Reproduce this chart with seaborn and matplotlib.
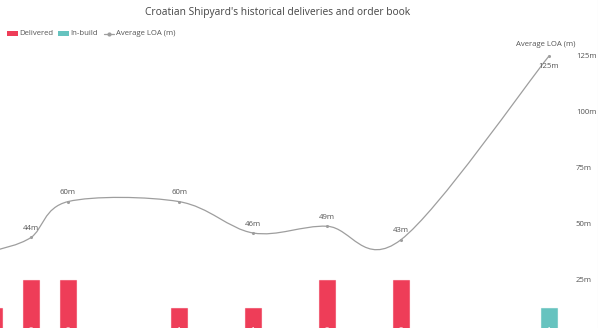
import numpy as np
import pandas as pd
import matplotlib
matplotlib.use("Agg")
import matplotlib.pyplot as plt
from matplotlib.patches import Rectangle
from matplotlib.lines import Line2D
from matplotlib.path import Path
from matplotlib.patches import PathPatch
import seaborn as sns

# ---------------- data ----------------
categories = ["2008", "2009", "2010", "2011", "2012", "2013", "2014", "2015",
              "2016", "2017", "2018", "2019", "2020", "2021", "2022", "2023"]
delivered = [1, 2, 2, 0, 0, 1, 0, 1, 0, 2, 0, 2, 0, 0, 0, 0]
in_build = [0, 0, 0, 0, 0, 0, 0, 0, 0, 0, 0, 0, 0, 0, 0, 1]
avg_loa = [38, 44, 60, np.nan, np.nan, 60, np.nan, 46, np.nan, 49, np.nan, 43,
           np.nan, np.nan, np.nan, 125]
loa_ticks = [25, 50, 75, 100, 125]

RED = "#EE3D58"
TEAL = "#66C3BF"
LINE = "#9E9E9E"
TXT = "#555555"
FS = 5.6

sns.set_theme(style="white")
plt.rcParams["font.family"] = ["Open Sans", "DejaVu Sans"]

W, H = 598, 328
fig = plt.figure(figsize=(W / 100, H / 100), dpi=100)

# axes geometry in pixels (image coords, y downward)
ax_left_px, ax_right_px = 0.0, 567.5
ax_top_px, ax_bottom_px = 45.0, 336.0
ax = fig.add_axes([ax_left_px / W, (H - ax_bottom_px) / H,
                   (ax_right_px - ax_left_px) / W, (ax_bottom_px - ax_top_px) / H])

# ---------------- bars ----------------
rows = []
for c, d, b in zip(categories, delivered, in_build):
    if d:
        rows.append({"cat": c, "count": d, "status": "Delivered"})
    if b:
        rows.append({"cat": c, "count": b, "status": "In-build"})
df = pd.DataFrame(rows)
sns.barplot(data=df, x="cat", y="count", hue="status", order=categories,
            palette={"Delivered": RED, "In-build": TEAL}, dodge=False,
            width=0.41, ax=ax, legend=False, linewidth=0.8,
            edgecolor="white", saturation=1)
for p in ax.patches:
    p.set_edgecolor(matplotlib.colors.to_rgba(p.get_facecolor(), 0.6))

xmin = (ax_left_px - 31) / 37 + 1
xmax = (ax_right_px - 31) / 37 + 1
ax.set_xlim(xmin, xmax)
ax.set_ylim(0, (ax_bottom_px - ax_top_px) / 28.2)
ax.set_xticks([])
ax.set_yticks([])
ax.set_xlabel("")
ax.set_ylabel("")
for s in ax.spines.values():
    s.set_visible(False)

for i, (d, b) in enumerate(zip(delivered, in_build)):
    v = d + b
    if v:
        ax.text(i, 0.2, str(v), color="white", ha="center", va="center",
                fontsize=FS, clip_on=True)

# ---------------- line (right axis) ----------------
ax2 = ax.twinx()
ax2.set_ylim(0, (ax_bottom_px - ax_top_px) / 2.24)
ax2.set_xlim(xmin, xmax)
for s in ax2.spines.values():
    s.set_visible(False)
ax2.set_yticks(loa_ticks)
ax2.set_yticklabels([f"{t}m" for t in loa_ticks])
ax2.tick_params(axis="y", length=0, pad=6, labelsize=FS, labelcolor=TXT)
ax2.set_ylabel("")
ax2.grid(False)

idx = [i for i, v in enumerate(avg_loa) if not np.isnan(v)]
vals = [avg_loa[i] for i in idx]
pts = ax2.transData.transform(np.column_stack([idx, vals]))

# Catmull-Rom style cubic spline through the points
n = len(pts)
cps = []
for k in range(n):
    prev = pts[k - 1] if k > 0 else pts[k]
    nxt = pts[k + 1] if k < n - 1 else pts[k]
    cur = pts[k]
    tan = (nxt - prev) / 6.0
    cps.append((cur - tan, cur + tan))

verts = [pts[0]]
codes = [Path.MOVETO]
for k in range(n - 1):
    verts += [cps[k][1], cps[k + 1][0], pts[k + 1]]
    codes += [Path.CURVE4] * 3
verts = ax2.transData.inverted().transform(np.array(verts))
ax2.add_patch(PathPatch(Path(verts, codes), facecolor="none", edgecolor=LINE,
                        linewidth=0.9))
sns.scatterplot(x=idx, y=vals, ax=ax2, s=5, color=LINE, edgecolor=LINE,
                linewidth=0, zorder=3, legend=False)

for i, v in zip(idx, vals):
    off = -7.5 if v >= 120 else 6.3
    ax2.annotate(f"{v:g}m", (i, v), xytext=(0, off), textcoords="offset points",
                 ha="center", va="center", fontsize=FS, color=TXT)

ax2.set_xlim(xmin, xmax)

# ---------------- title / axis title / legend ----------------
fig.text(278 / W, 1 - 13 / H, "Croatian Shipyard's historical deliveries and order book",
         ha="center", va="center", fontsize=7.4, color="#444444")
fig.text(546 / W, 1 - 44.5 / H, "Average LOA (m)", ha="center", va="center",
         fontsize=FS, color=TXT)

def frect(x0, y0, w, h, color):
    fig.add_artist(Rectangle((x0 / W, 1 - (y0 + h) / H), w / W, h / H,
                             transform=fig.transFigure, facecolor=color,
                             edgecolor="none"))

ly = 33.5
frect(7, 31, 11, 5, RED)
fig.text(19 / W, 1 - ly / H, "Delivered", ha="left", va="center", fontsize=FS, color=TXT)
frect(58, 31, 11, 5, TEAL)
fig.text(70.5 / W, 1 - ly / H, "In-build", ha="left", va="center", fontsize=FS, color=TXT)
fig.add_artist(Line2D([104 / W, 114 / W], [1 - ly / H, 1 - ly / H],
                      transform=fig.transFigure, color=LINE, linewidth=0.9))
fig.add_artist(Line2D([109 / W], [1 - ly / H], transform=fig.transFigure,
                      color=LINE, marker="o", markersize=2, linestyle="none"))
fig.text(116 / W, 1 - ly / H, "Average LOA (m)", ha="left", va="center",
         fontsize=FS, color=TXT)

# faint container border on right
fig.add_artist(Line2D([1 - 0.5 / W, 1 - 0.5 / W], [0, 1], transform=fig.transFigure,
                      color="#DDDDDD", linewidth=0.8))

fig.savefig("out.png", dpi=100, facecolor="white")
